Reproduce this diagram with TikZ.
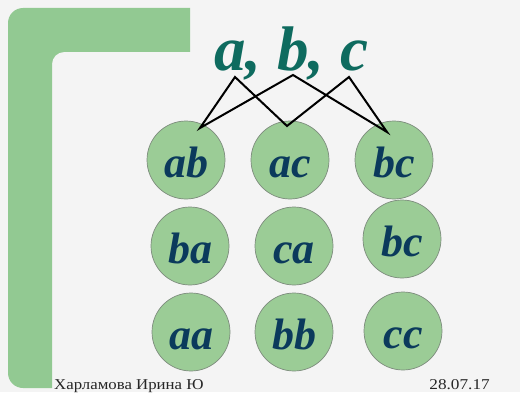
\documentclass[tikz,border=0pt]{standalone}
\usepackage{fontspec}
\setmainfont{Liberation Serif}
\usepackage{graphicx}
\definecolor{bandgreen}{RGB}{146,201,146}
\definecolor{circfill}{RGB}{155,204,150}
\definecolor{circline}{RGB}{125,140,125}
\definecolor{titlecol}{RGB}{14,107,95}
\definecolor{lettercol}{RGB}{11,58,92}
\definecolor{bgcol}{RGB}{244,244,244}
\tikzset{
  pairnode/.style={circle, fill=circfill, draw=circline, line width=0.7pt, minimum size=78pt, inner sep=0pt,
    text height=34pt, text depth=0pt,
    text=lettercol, font=\fontsize{44}{48}\selectfont\bfseries\itshape},
  link/.style={draw=black, line width=2pt, line join=miter},
  foot/.style={font=\fontsize{15}{17}\selectfont, text=black!85, inner sep=0pt}
}
\begin{document}
\begin{tikzpicture}[x=1pt,y=1pt]
\useasboundingbox (0,0) rectangle (520,392);
\fill[bgcol] (0,0) rectangle (520,392);
% green L band
\fill[bandgreen] (190,384) -- (190,340) -- (64,340) arc[start angle=90,end angle=180,radius=12]
  -- (52,4) -- (23,4) arc[start angle=270,end angle=180,radius=15]
  -- (8,369) arc[start angle=180,end angle=90,radius=15] -- cycle;
% title
\node[anchor=base, text=titlecol, inner sep=0pt, font=\fontsize{63}{66}\selectfont\bfseries\itshape] (title) at (291,322) {a, b, c};
% circles
\node[pairnode] (ab) at (186,232) {ab};
\node[pairnode] (ac) at (290,232) {ac};
\node[pairnode] (bc) at (394,232) {bc};
\node[pairnode] (ba) at (190,146) {ba};
\node[pairnode] (ca) at (294,146) {ca};
\node[pairnode] (bcb) at (402,153) {bc};
\node[pairnode] (aa) at (191,60) {aa};
\node[pairnode] (bb) at (294,60) {bb};
\node[pairnode] (cc) at (403,61) {cc};
% connector points
\coordinate (ta) at (235,315);
\coordinate (tb) at (293,317);
\coordinate (tc) at (349,315);
\coordinate (pab) at (200,264);
\coordinate (pac) at (287,266);
\coordinate (pbc) at (387,260);
\draw[link] (pab) -- (ta) -- (pac) -- (tc) -- (pbc) -- (tb) -- cycle;
% footer
\node[foot, anchor=base west] (author) at (54,3) {\scalebox{1.12}[1]{Харламова Ирина Ю}};
\node[foot, anchor=base east] (date) at (490,3) {\scalebox{1.15}[1]{28.07.17}};
\end{tikzpicture}
\end{document}
